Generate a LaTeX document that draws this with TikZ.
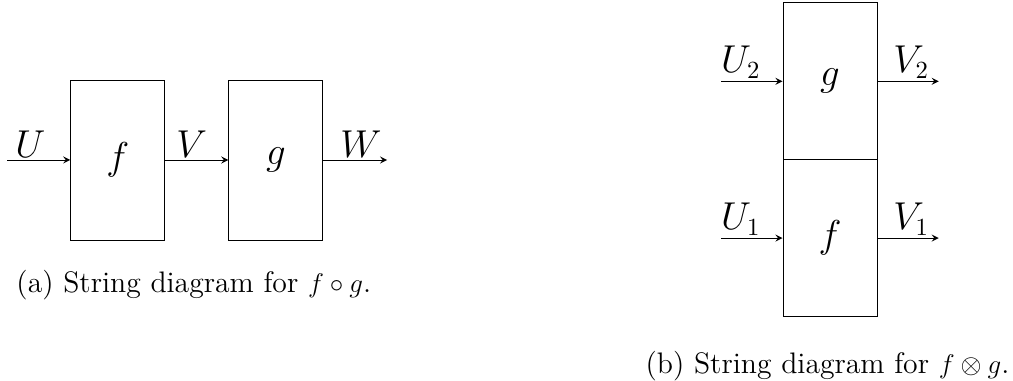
\documentclass[tikz,border=0pt]{standalone}
\usepackage{tikz}

\begin{document}
\begin{tikzpicture}[>=stealth,
  bx/.style={draw,minimum width=1.47cm,inner sep=0pt,font=\fontsize{16}{19}\selectfont},
  lb/.style={above,inner sep=1pt,font=\fontsize{16}{19}\selectfont},
  captxt/.style={inner sep=0pt,font=\fontsize{13.2}{16}\selectfont}]
  \useasboundingbox (0,0) rectangle (15.83,-5.94);
  % (a) composition
  \node[bx,minimum height=2.5cm] (f) at (1.84,-2.5) {$f$};
  \node[bx,minimum height=2.5cm] (g) at (4.31,-2.5) {$g$};
  \coordinate (u) at (0.11,-2.5);
  \coordinate (w) at (6.05,-2.5);
  \draw[->] (u) -- node[lb,pos=0.37]{$U$} (f.west);
  \draw[->] (f.east) -- node[lb,pos=0.42]{$V$} (g.west);
  \draw[->] (g.east) -- node[lb,pos=0.59]{$W$} (w);
  \node[captxt,anchor=west] (capa) at (0.25,-4.46) {(a) String diagram for $f\circ g$.};
  % (b) tensor
  \node[bx,minimum height=2.45cm] (g2) at (12.97,-1.27) {$g$};
  \node[bx,minimum height=2.45cm] (f1) at (12.97,-3.72) {$f$};
  \coordinate (u2) at (11.27,-1.27);
  \coordinate (v2) at (14.67,-1.27);
  \coordinate (u1) at (11.27,-3.72);
  \coordinate (v1) at (14.67,-3.72);
  \draw[->] (u2) -- node[lb,pos=0.32]{$U_2$} (g2.west);
  \draw[->] (g2.east) -- node[lb,pos=0.55]{$V_2$} (v2);
  \draw[->] (u1) -- node[lb,pos=0.32]{$U_1$} (f1.west);
  \draw[->] (f1.east) -- node[lb,pos=0.55]{$V_1$} (v1);
  \node[captxt,anchor=east] (capb) at (15.78,-5.72) {(b) String diagram for $f\otimes g$.};
\end{tikzpicture}
\end{document}
